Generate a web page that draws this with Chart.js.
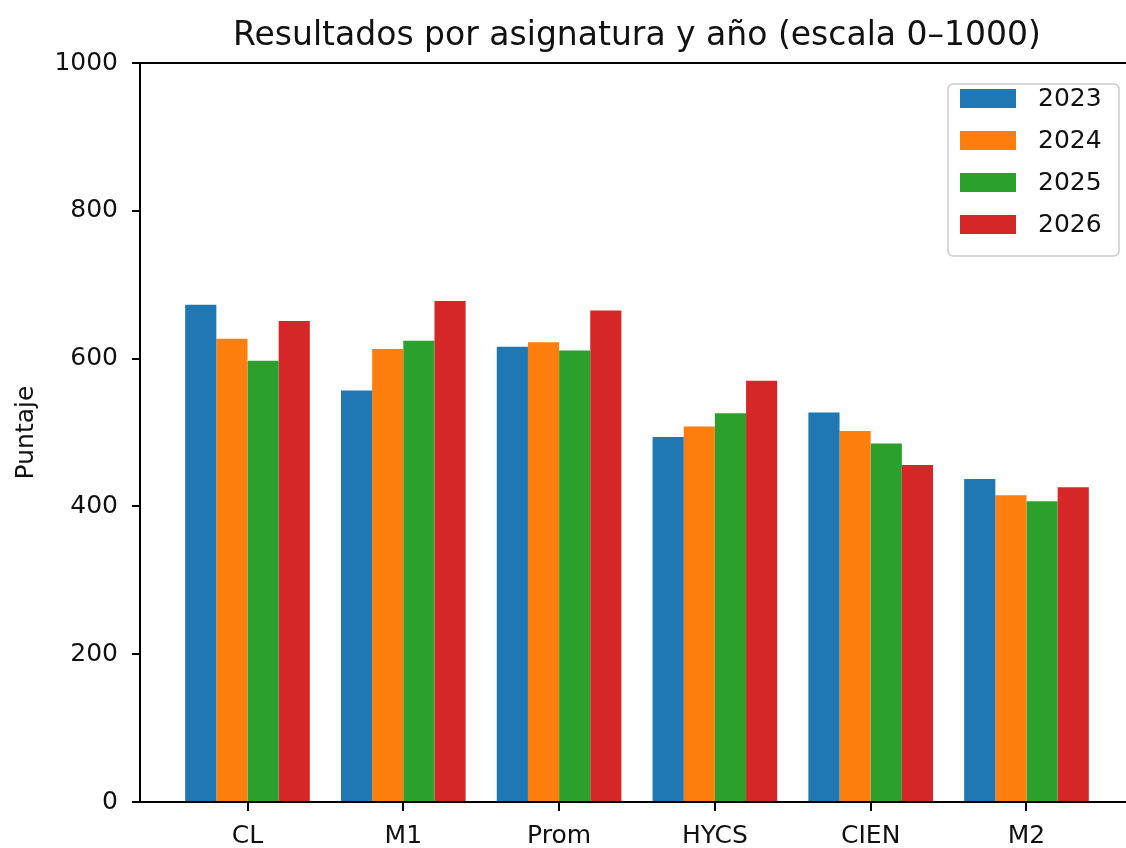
<!DOCTYPE html>
<html>
<head>
<meta charset="utf-8">
<script src="https://cdn.jsdelivr.net/npm/chart.js@4.4.1/dist/chart.umd.min.js"></script>
<style>
  html, body { margin: 0; padding: 0; background: #fff; overflow: hidden; }
  #wrap { width: 1140px; height: 848px; }
</style>
</head>
<body>
<div id="wrap"><canvas id="grafico" width="1140" height="848"></canvas></div>
<script>
// datos
const asignaturas = ["CL", "M1", "Prom", "HYCS", "CIEN", "M2"];
const anios = ["2023", "2024", "2025", "2026"];
const puntaje2023 = [673, 557, 616, 494, 527, 437];
const puntaje2024 = [627, 613, 622, 508, 502, 415];
const puntaje2025 = [597, 624, 611, 526, 485, 407];
const puntaje2026 = [651, 678, 665, 570, 456, 426];
const ticksY = [0, 200, 400, 600, 800, 1000];
const titulo = "Resultados por asignatura y año (escala 0–1000)";

const colores = ["#1f77b4", "#ff7f0e", "#2ca02c", "#d62728"];
const series = [puntaje2023, puntaje2024, puntaje2025, puntaje2026];

const fuente = "'DejaVu Sans', sans-serif";

// marco superior/derecho, marcas del eje x y título centrado sobre el área
const marco = {
  id: "marco",
  afterDraw(chart) {
    const { ctx, chartArea: a } = chart;
    const ejeX = chart.scales.x;
    ctx.save();
    ctx.strokeStyle = "#000";
    ctx.lineWidth = 2;
    ctx.beginPath();
    ctx.moveTo(a.left, a.top);
    ctx.lineTo(a.right, a.top);
    ctx.lineTo(a.right, a.bottom);
    ctx.stroke();
    // marcas de las categorías
    ctx.beginPath();
    asignaturas.forEach((c, i) => {
      const px = Math.round(ejeX.getPixelForValue(i));
      ctx.moveTo(px, a.bottom);
      ctx.lineTo(px, a.bottom + 9);
    });
    ctx.stroke();
    ctx.fillStyle = "#111";
    ctx.font = "33px " + fuente;
    ctx.textAlign = "center";
    ctx.textBaseline = "alphabetic";
    ctx.fillText(titulo, (a.left + a.right) / 2, a.top - 18);
    ctx.restore();
  },
};

// leyenda dentro del área, arriba a la derecha
const leyenda = {
  id: "leyenda",
  afterDraw(chart) {
    const { ctx, chartArea: a } = chart;
    const w = 171, h = 172;
    const x = a.right - 15 - w, y = a.top + 21;
    ctx.save();
    ctx.fillStyle = "rgba(255,255,255,0.8)";
    ctx.strokeStyle = "#cccccc";
    ctx.lineWidth = 1.5;
    ctx.beginPath();
    ctx.roundRect(x, y, w, h, 5);
    ctx.fill();
    ctx.stroke();
    ctx.font = "25px " + fuente;
    ctx.textBaseline = "middle";
    chart.data.datasets.forEach((ds, i) => {
      const cy = y + 14 + 42 * i;
      ctx.fillStyle = ds.backgroundColor;
      ctx.fillRect(x + 12, cy - 9, 56, 19);
      ctx.fillStyle = "#111";
      ctx.fillText(ds.label, x + 90, cy + 1);
    });
    ctx.restore();
  },
};

new Chart(document.getElementById("grafico"), {
  type: "bar",
  data: {
    datasets: anios.map((a, i) => ({
      label: a,
      data: asignaturas.map((c, j) => ({ x: j, y: series[i][j] })),
      backgroundColor: colores[i],
      borderWidth: 0,
      categoryPercentage: 0.8,
      barPercentage: 1.0,
    })),
  },
  options: {
    responsive: false,
    animation: false,
    layout: { padding: { left: 0, right: 6, top: 63, bottom: 0 } },
    plugins: {
      legend: { display: false },
      tooltip: { enabled: false },
      title: { display: false },
    },
    scales: {
      x: {
        type: "linear",
        min: -0.69,
        max: 5.69,
        offset: false,
        afterBuildTicks: (axis) => {
          axis.ticks = asignaturas.map((c, i) => ({ value: i }));
        },
        afterFit: (axis) => { axis.height = 46; },
        ticks: {
          callback: (v) => asignaturas[v],
          color: "#111",
          font: { family: fuente, size: 25 },
          padding: 11,
          maxRotation: 0,
          autoSkip: false,
        },
        grid: {
          display: true,
          offset: false,
          drawOnChartArea: false,
          drawTicks: true,
          tickLength: 8,
          color: "#000",
          lineWidth: 2,
        },
        border: { display: true, color: "#000", width: 2 },
      },
      y: {
        min: 0,
        max: 1000,
        afterBuildTicks: (axis) => {
          axis.ticks = ticksY.map((v) => ({ value: v }));
        },
        afterFit: (axis) => { axis.width = 140; },
        ticks: {
          callback: (v) => String(v),
          color: "#111",
          font: { family: fuente, size: 25 },
          padding: 14,
        },
        grid: {
          display: true,
          drawOnChartArea: false,
          drawTicks: true,
          tickLength: 8,
          color: "#000",
          lineWidth: 2,
        },
        border: { display: true, color: "#000", width: 2 },
        title: {
          display: true,
          text: "Puntaje",
          color: "#111",
          font: { family: fuente, size: 25 },
          padding: { top: 11, bottom: 0 },
        },
      },
    },
  },
  plugins: [marco, leyenda],
});
</script>
</body>
</html>
